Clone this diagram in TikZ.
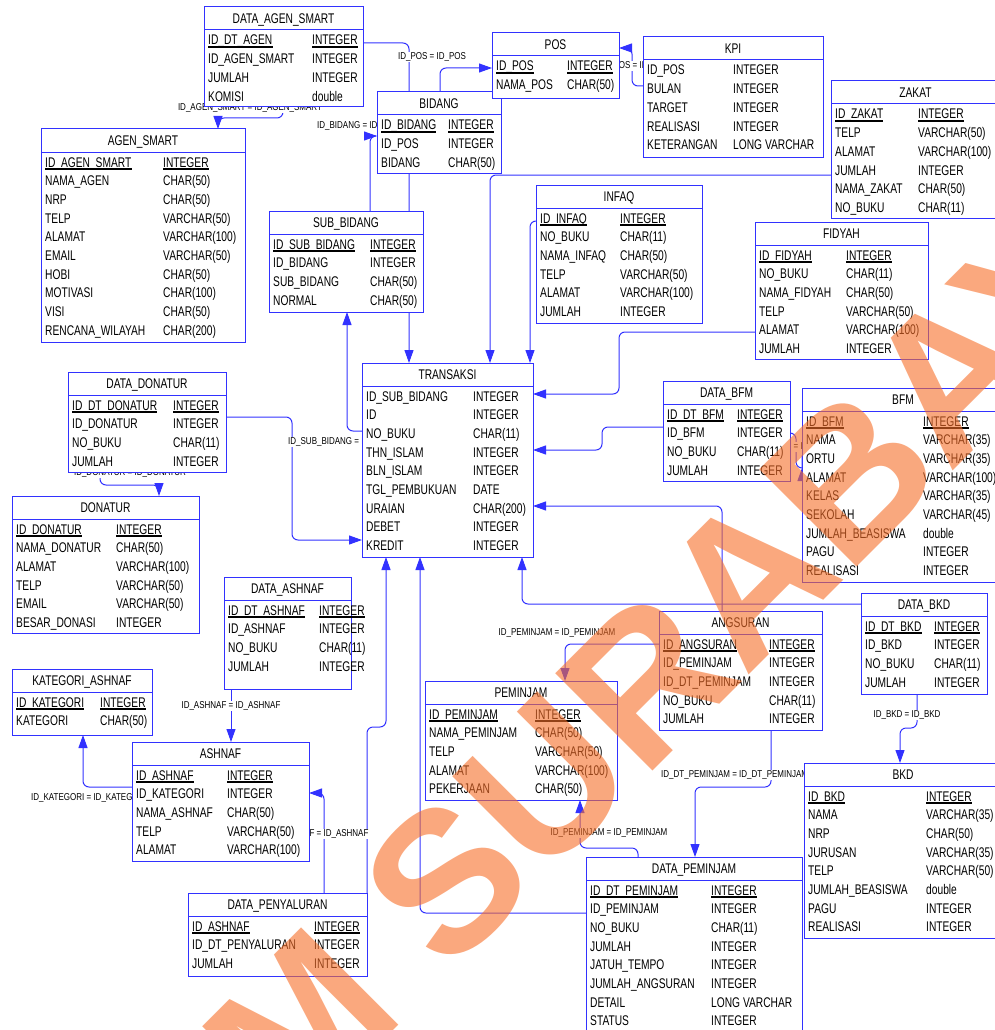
\documentclass[tikz,border=0pt]{standalone}
\usepackage{fontspec}
\setmainfont{Liberation Sans}
\newfontfamily\erfont[FakeStretch=0.73]{Liberation Sans}
\newfontfamily\lblfont[FakeStretch=0.8]{Liberation Sans}
\usetikzlibrary{arrows.meta}
\definecolor{erblue}{RGB}{50,50,255}
\definecolor{wmorange}{RGB}{246,110,40}
\pgfdeclarelayer{bg}
\pgfdeclarelayer{fg}
\pgfsetlayers{bg,main,fg}

% one table: name, left, top, right, bottom, title, x of type column, rows
\newcommand{\tabel}[8]{%
  \node[tbl, minimum width={(#4-#2)*1pt}, minimum height={(#5-#3)*1pt}] (#1) at (#2,#3) {};
  \node[ttl] (#1-t) at ({(#2+#4)/2},#3+16.5) {#6};
  \draw[erblue, line width=1pt] (#1.north west) ++(0,23) -- ++(#4-#2,0);
  \foreach \f/\d [count=\i] in {#8} {
    \node[fld] (#1-a\i) at (#2+4,{#3+38+(\i-1)*18.7}) {\f};
    \node[fld] (#1-b\i) at (#7,{#3+38+(\i-1)*18.7}) {\d};
  }
}
% primary key row
\newcommand{\kunci}[1]{%
  \draw[pkline] ([yshift=-2pt]#1-a1.base west) -- ([yshift=-2pt]#1-a1.base east);
  \draw[pkline] ([yshift=-2pt]#1-b1.base west) -- ([yshift=-2pt]#1-b1.base east);
}

\begin{document}
\begin{tikzpicture}
  [x=1pt,y=-1pt,
   tbl/.style={draw=erblue, fill=white, line width=1pt, anchor=north west, inner sep=0pt, outer sep=0pt},
   ttl/.style={anchor=base, inner sep=0pt, font=\erfont\fontsize{14}{16}\selectfont},
   fld/.style={anchor=base west, inner sep=0pt, font=\erfont\fontsize{14}{16}\selectfont},
   pkline/.style={line width=1.8pt},
   rel/.style={draw=erblue, line width=1pt, rounded corners=6pt, -{Triangle[length=13pt,width=9pt]}},
   lbl/.style={fill=white, inner sep=1pt, font=\lblfont\fontsize{10}{11}\selectfont},
   wm/.style={text=wmorange, text opacity=0.6, inner sep=0pt, font=\fontsize{200}{200}\selectfont\bfseries}]
  \useasboundingbox (0,0) rectangle (995,1030);

  \tabel{dataagen}{204}{7}{363}{107}{DATA\_AGEN\_SMART}{312}{ID\_DT\_AGEN/INTEGER, ID\_AGEN\_SMART/INTEGER, JUMLAH/INTEGER, KOMISI/double}
  \tabel{agen}{41}{129}{245}{342}{AGEN\_SMART}{163}{ID\_AGEN\_SMART/INTEGER, NAMA\_AGEN/CHAR(50), NRP/CHAR(50), TELP/VARCHAR(50), ALAMAT/VARCHAR(100), EMAIL/VARCHAR(50), HOBI/CHAR(50), MOTIVASI/CHAR(100), VISI/CHAR(50), RENCANA\_WILAYAH/CHAR(200)}
  \tabel{bidang}{377}{92}{501}{173}{BIDANG}{448}{ID\_BIDANG/INTEGER, ID\_POS/INTEGER, BIDANG/CHAR(50)}
  \tabel{pos}{492}{33}{619}{99}{POS}{567}{ID\_POS/INTEGER, NAMA\_POS/CHAR(50)}
  \tabel{kpi}{643}{37}{823}{157}{KPI}{733}{ID\_POS/INTEGER, BULAN/INTEGER, TARGET/INTEGER, REALISASI/INTEGER, KETERANGAN/LONG VARCHAR}
  \tabel{zakat}{831}{81}{1000}{218}{ZAKAT}{918}{ID\_ZAKAT/INTEGER, TELP/VARCHAR(50), ALAMAT/VARCHAR(100), JUMLAH/INTEGER, NAMA\_ZAKAT/CHAR(50), NO\_BUKU/CHAR(11)}
  \tabel{subbidang}{269}{211}{423}{312}{SUB\_BIDANG}{370}{ID\_SUB\_BIDANG/INTEGER, ID\_BIDANG/INTEGER, SUB\_BIDANG/CHAR(50), NORMAL/CHAR(50)}
  \tabel{infaq}{536}{185}{702}{323}{INFAQ}{620}{ID\_INFAQ/INTEGER, NO\_BUKU/CHAR(11), NAMA\_INFAQ/CHAR(50), TELP/VARCHAR(50), ALAMAT/VARCHAR(100), JUMLAH/INTEGER}
  \tabel{fidyah}{755}{222}{928}{359}{FIDYAH}{846}{ID\_FIDYAH/INTEGER, NO\_BUKU/CHAR(11), NAMA\_FIDYAH/CHAR(50), TELP/VARCHAR(50), ALAMAT/VARCHAR(100), JUMLAH/INTEGER}
  \tabel{transaksi}{362}{363}{533}{557}{TRANSAKSI}{473}{ID\_SUB\_BIDANG/INTEGER, ID/INTEGER, NO\_BUKU/CHAR(11), THN\_ISLAM/INTEGER, BLN\_ISLAM/INTEGER, TGL\_PEMBUKUAN/DATE, URAIAN/CHAR(200), DEBET/INTEGER, KREDIT/INTEGER}
  \tabel{datadonatur}{68}{372}{226}{472}{DATA\_DONATUR}{173}{ID\_DT\_DONATUR/INTEGER, ID\_DONATUR/INTEGER, NO\_BUKU/CHAR(11), JUMLAH/INTEGER}
  \tabel{donatur}{12}{496}{199}{633}{DONATUR}{116}{ID\_DONATUR/INTEGER, NAMA\_DONATUR/CHAR(50), ALAMAT/VARCHAR(100), TELP/VARCHAR(50), EMAIL/VARCHAR(50), BESAR\_DONASI/INTEGER}
  \tabel{dataashnaf}{224}{577}{351}{689}{DATA\_ASHNAF}{319}{ID\_DT\_ASHNAF/INTEGER, ID\_ASHNAF/INTEGER, NO\_BUKU/CHAR(11), JUMLAH/INTEGER}
  \tabel{kategori}{12}{669}{152}{735}{KATEGORI\_ASHNAF}{100}{ID\_KATEGORI/INTEGER, KATEGORI/CHAR(50)}
  \tabel{ashnaf}{132}{742}{309}{861}{ASHNAF}{227}{ID\_ASHNAF/INTEGER, ID\_KATEGORI/INTEGER, NAMA\_ASHNAF/CHAR(50), TELP/VARCHAR(50), ALAMAT/VARCHAR(100)}
  \tabel{penyaluran}{188}{893}{367}{976}{DATA\_PENYALURAN}{314}{ID\_ASHNAF/INTEGER, ID\_DT\_PENYALURAN/INTEGER, JUMLAH/INTEGER}
  \tabel{databfm}{663}{381}{790}{481}{DATA\_BFM}{737}{ID\_DT\_BFM/INTEGER, ID\_BFM/INTEGER, NO\_BUKU/CHAR(11), JUMLAH/INTEGER}
  \tabel{bfm}{802}{388}{1004}{582}{BFM}{923}{ID\_BFM/INTEGER, NAMA/VARCHAR(35), ORTU/VARCHAR(35), ALAMAT/VARCHAR(100), KELAS/VARCHAR(35), SEKOLAH/VARCHAR(45), JUMLAH\_BEASISWA/double, PAGU/INTEGER, REALISASI/INTEGER}
  \tabel{databkd}{861}{593}{987}{694}{DATA\_BKD}{934}{ID\_DT\_BKD/INTEGER, ID\_BKD/INTEGER, NO\_BUKU/CHAR(11), JUMLAH/INTEGER}
  \tabel{angsuran}{659}{611}{822}{730}{ANGSURAN}{769}{ID\_ANGSURAN/INTEGER, ID\_PEMINJAM/INTEGER, ID\_DT\_PEMINJAM/INTEGER, NO\_BUKU/CHAR(11), JUMLAH/INTEGER}
  \tabel{peminjam}{425}{681}{617}{800}{PEMINJAM}{535}{ID\_PEMINJAM/INTEGER, NAMA\_PEMINJAM/CHAR(50), TELP/VARCHAR(50), ALAMAT/VARCHAR(100), PEKERJAAN/CHAR(50)}
  \tabel{bkd}{804}{763}{1002}{938}{BKD}{926}{ID\_BKD/INTEGER, NAMA/VARCHAR(35), NRP/CHAR(50), JURUSAN/VARCHAR(35), TELP/VARCHAR(50), JUMLAH\_BEASISWA/double, PAGU/INTEGER, REALISASI/INTEGER}
  \tabel{datapeminjam}{586}{857}{802}{1045}{DATA\_PEMINJAM}{711}{ID\_DT\_PEMINJAM/INTEGER, ID\_PEMINJAM/INTEGER, NO\_BUKU/CHAR(11), JUMLAH/INTEGER, JATUH\_TEMPO/INTEGER, JUMLAH\_ANGSURAN/INTEGER, DETAIL/LONG VARCHAR, STATUS/INTEGER}

  \foreach \n in {dataagen,agen,bidang,pos,zakat,subbidang,infaq,fidyah,datadonatur,donatur,dataashnaf,kategori,ashnaf,penyaluran,databfm,bfm,databkd,angsuran,peminjam,bkd,datapeminjam}
    {\kunci{\n}}

  \begin{pgfonlayer}{bg}
    % relations
    \draw[rel] ([xshift=79pt]dataagen.south west) |- ([xshift=177pt,yshift=11pt]agen.north west) -- ([xshift=177pt]agen.north west);
    \draw[rel] ([yshift=-36pt]dataagen.north east) -| ([xshift=47pt]transaksi.north west);
    \draw[rel] ([xshift=63pt]bidang.north west) |- ([yshift=-35pt]pos.north west);
    \draw[rel] ([yshift=-49pt]kpi.north west) -| ([xshift=13pt,yshift=-15pt]pos.north east) -- ([yshift=-15pt]pos.north east);
    \draw[rel] ([xshift=101pt]subbidang.north west) |- ([yshift=-44pt]bidang.north west);
    \draw[rel] ([yshift=-94pt]zakat.north west) -| ([xshift=128pt]transaksi.north west);
    \draw[rel] ([yshift=-36pt]infaq.north west) -| ([xshift=168pt]transaksi.north west);
    \draw[rel] ([yshift=-110pt]fidyah.north west) -| ([xshift=86pt,yshift=-31pt]transaksi.north east) -- ([yshift=-31pt]transaksi.north east);
    \draw[rel] ([yshift=-46pt]databfm.north west) -| ([xshift=69pt,yshift=-87pt]transaksi.north east) -- ([yshift=-87pt]transaksi.north east);
    \draw[rel] ([xshift=63pt]angsuran.north west) |- ([yshift=-143pt]transaksi.north east);
    \draw[rel] ([yshift=-11pt]databkd.north west) -| ([xshift=160pt]transaksi.south west);
    \draw[rel] ([yshift=-52pt]databfm.north east) -| ([xshift=-6pt,yshift=-80pt]bfm.north west) -- ([yshift=-80pt]bfm.north west);
    \draw[rel] ([yshift=-68pt]transaksi.north west) -| ([xshift=78pt]subbidang.south west);
    \draw[rel] ([yshift=-45pt]datadonatur.north east) -| ([xshift=-70pt,yshift=-177pt]transaksi.north west) -- ([yshift=-177pt]transaksi.north west);
    \draw[rel] ([xshift=32pt]datadonatur.south west) |- ([xshift=147pt,yshift=11pt]donatur.north west) -- ([xshift=147pt]donatur.north west);
    \draw[rel] ([xshift=7pt]dataashnaf.south west) -- ([xshift=99pt]ashnaf.north west);
    \draw[rel] ([yshift=-45pt]ashnaf.north west) -| ([xshift=71pt]kategori.south west);
    \draw[rel] ([xshift=136pt]penyaluran.north west) |- ([yshift=-51pt]ashnaf.north east);
    \draw[rel] ([xshift=179pt]penyaluran.north west) |- ([xshift=24pt,yshift=-170pt]transaksi.south west) -- ([xshift=24pt]transaksi.south west);
    \draw[rel] ([yshift=-56pt]datapeminjam.north west) -| ([xshift=58pt]transaksi.south west);
    \draw[rel] ([yshift=-33pt]angsuran.north west) -| ([xshift=140pt]peminjam.north west);
    \draw[rel] ([xshift=52pt]datapeminjam.north west) |- ([xshift=155pt,yshift=-48pt]peminjam.south west) -- ([xshift=155pt]peminjam.south west);
    \draw[rel] ([xshift=112pt]angsuran.south west) |- ([xshift=109pt,yshift=70pt]datapeminjam.north west) -- ([xshift=109pt]datapeminjam.north west);
    \draw[rel] ([xshift=56pt]databkd.south west) |- ([xshift=96pt,yshift=35pt]bkd.north west) -- ([xshift=96pt]bkd.north west);

    % relation labels
    \node[lbl] (l-agen) at ([xshift=46pt,yshift=-1pt]dataagen.south west) {ID\_AGEN\_SMART = ID\_AGEN\_SMART};
    \node[lbl] (l-pos) at ([xshift=55pt,yshift=35pt]bidang.north west) {ID\_POS = ID\_POS};
    \node[lbl] (l-kpi) at ([xshift=16pt,yshift=-33pt]pos.north east) {ID\_POS = ID\_POS};
    \node[lbl, anchor=west] (l-bidang) at ([xshift=-61pt,yshift=-34pt]bidang.north west) {ID\_BIDANG = ID\_BIDANG};
    \node[lbl] (l-bfm) at ([xshift=-6pt,yshift=-59pt]bfm.north west) {ID\_BFM = ID\_BFM};
    \node[lbl, anchor=west] (l-sub) at ([xshift=-75pt,yshift=-79pt]transaksi.north west) {ID\_SUB\_BIDANG = ID\_SUB\_BIDANG};
    \node[lbl] (l-donatur) at ([xshift=62pt,yshift=-1pt]datadonatur.south west) {ID\_DONATUR = ID\_DONATUR};
    \node[lbl] (l-ashnaf) at ([xshift=7pt,yshift=-17pt]dataashnaf.south west) {ID\_ASHNAF = ID\_ASHNAF};
    \node[lbl, anchor=west] (l-kategori) at ([xshift=-102pt,yshift=-56pt]ashnaf.north west) {ID\_KATEGORI = ID\_KATEGORI};
    \node[lbl] (l-salur) at ([xshift=131pt,yshift=59pt]penyaluran.north west) {ID\_ASHNAF = ID\_ASHNAF};
    \node[lbl] (l-pinjam1) at ([xshift=132pt,yshift=48pt]peminjam.north west) {ID\_PEMINJAM = ID\_PEMINJAM};
    \node[lbl] (l-pinjam2) at ([xshift=184pt,yshift=-33pt]peminjam.south west) {ID\_PEMINJAM = ID\_PEMINJAM};
    \node[lbl, anchor=west] (l-dtpinjam) at ([xshift=1pt,yshift=-45pt]angsuran.south west) {ID\_DT\_PEMINJAM = ID\_DT\_PEMINJAM};
    \node[lbl] (l-bkd) at ([xshift=46pt,yshift=-21pt]databkd.south west) {ID\_BKD = ID\_BKD};
  \end{pgfonlayer}

  % watermark
  \begin{pgfonlayer}{fg}
    \node[wm, anchor=base west, rotate=45] (wm-a) at (447,977) {SURABAYA};
    \node[wm, anchor=base east, rotate=45] (wm-b) at (408,1016) {STIKOM};
  \end{pgfonlayer}
\end{tikzpicture}
\end{document}
